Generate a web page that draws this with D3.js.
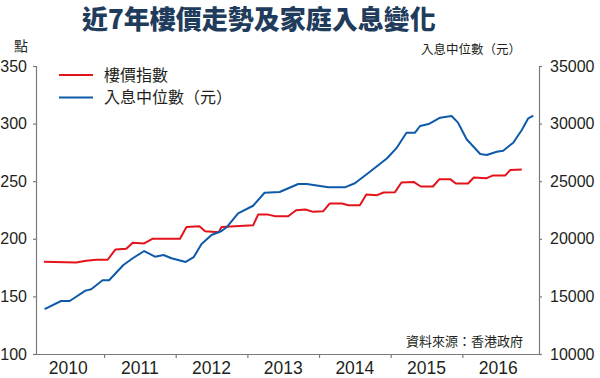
<!DOCTYPE html>
<html><head><meta charset="utf-8">
<script src="https://cdn.jsdelivr.net/npm/d3@7/dist/d3.min.js"></script>
<style>
html,body{margin:0;padding:0;background:#fff;}
svg{display:block;}
</style></head>
<body>
<script>
// ---- data ----
const title = "近7年樓價走勢及家庭入息變化";
const leftUnit = "點";
const rightUnit = "入息中位數（元）";
const source = "資料來源：香港政府";
const seriesNames = ["樓價指數", "入息中位數（元）"];
const yearLabels = [2010, 2011, 2012, 2013, 2014, 2015, 2016];
const yearTicks = [2011, 2012, 2013, 2014, 2015, 2016];
const leftTicks = [100, 150, 200, 250, 300, 350];
const rightTicks = [10000, 15000, 20000, 25000, 30000, 35000];

// property price index (left axis)
const priceTimes = [2010.16,2010.61,2010.75,2010.89,2011.05,2011.16,2011.31,2011.40,2011.56,2011.68,
  2012.06,2012.15,2012.33,2012.41,2012.60,2012.64,2013.08,2013.15,2013.29,2013.39,2013.57,2013.68,
  2013.81,2013.92,2014.06,2014.15,2014.32,2014.41,2014.57,2014.66,2014.81,2014.90,2015.06,2015.15,
  2015.32,2015.42,2015.59,2015.68,2015.83,2015.91,2016.08,2016.16,2016.34,2016.43,2016.60,2016.67,2016.83];
const priceValues = [180.0,179.4,181.0,181.8,181.8,190.8,191.4,196.6,196.0,200.1,
  200.1,210.2,210.8,206.5,205.6,210.2,211.7,221.0,221.0,219.6,219.6,224.8,
  225.4,223.4,224.0,230.7,230.7,229.2,229.2,238.5,237.9,240.2,240.5,248.9,
  249.4,245.4,245.4,251.8,251.8,248.0,248.0,253.2,252.6,255.0,255.0,259.8,260.2];

// median household income (right axis)
const incomeTimes = [2010.17,2010.40,2010.52,2010.74,2010.82,2010.98,2011.07,2011.27,2011.40,2011.56,
  2011.71,2011.83,2011.94,2012.14,2012.25,2012.36,2012.50,2012.64,2012.71,2012.87,2013.08,2013.24,
  2013.45,2013.71,2013.83,2014.13,2014.36,2014.50,2014.67,2014.95,2015.09,2015.22,2015.34,2015.41,
  2015.53,2015.69,2015.85,2015.94,2016.06,2016.25,2016.34,2016.48,2016.57,2016.71,2016.83,2016.92,2016.99];
const incomeValues = [13900,14600,14600,15500,15620,16400,16400,17730,18310,18940,
  18450,18590,18310,17990,18400,19550,20330,20680,21000,22210,22870,24000,
  24060,24760,24760,24470,24470,24820,25620,26990,27940,29210,29210,29790,
  29960,30510,30660,30080,28640,27360,27270,27560,27650,28340,29440,30460,30690];

// ---- drawing ----
const W = 600, H = 378;
const svg = d3.select("body").append("svg").attr("width", W).attr("height", H);
const RED = "#e3131b", BLUE = "#0f5aa8", AXIS = "#7a7a7a", TXT = "#231f20";
const numFont = "'Liberation Sans', Arial, sans-serif";
const cjkFont = "'Noto Sans CJK TC', 'Noto Sans CJK SC', sans-serif";

const x = d3.scaleLinear().domain([2010.05, 2017.07]).range([36, 539]);
const yL = d3.scaleLinear().domain([100, 350]).range([354, 66]);
const yR = d3.scaleLinear().domain([10000, 35000]).range([354, 66]);

// title
svg.append("text").attr("x", 82).attr("y", 29)
  .attr("font-family", cjkFont).attr("font-weight", 900).attr("font-size", 26)
  .attr("fill", "#1f3c5c").text(title);

svg.append("text").attr("x", 21).attr("y", 51).attr("text-anchor", "middle")
  .attr("font-family", cjkFont).attr("font-size", 14).attr("fill", TXT).text(leftUnit);
svg.append("text").attr("x", 521).attr("y", 54).attr("text-anchor", "end")
  .attr("font-family", cjkFont).attr("font-size", 12.5).attr("fill", TXT).text(rightUnit);

// axes
const gL = svg.append("g").attr("transform", "translate(36,0)")
  .call(d3.axisLeft(yL).tickValues(leftTicks).tickSize(3).tickSizeOuter(3).tickPadding(6)
    .tickFormat(d3.format("d")));
const gR = svg.append("g").attr("transform", "translate(539,0)")
  .call(d3.axisRight(yR).tickValues(rightTicks).tickSize(3).tickSizeOuter(3).tickPadding(8)
    .tickFormat(d3.format("d")));
const gB = svg.append("g").attr("transform", "translate(0,354)")
  .call(d3.axisBottom(x).tickValues(yearTicks).tickSize(4).tickSizeOuter(0).tickFormat(""));
[gL, gR, gB].forEach(g => {
  g.selectAll("path,line").attr("stroke", AXIS).attr("stroke-width", 1.2);
  g.selectAll("text").attr("font-family", numFont).attr("font-size", 16).attr("fill", TXT);
});

// year labels centered within each year
svg.append("g").selectAll("text").data(yearLabels).join("text")
  .attr("x", d => x(d + 0.5)).attr("y", 374).attr("text-anchor", "middle")
  .attr("font-family", "'Liberation Sans Narrow', 'Arial Narrow', " + numFont)
  .attr("font-size", 17.5).attr("fill", TXT).text(d => d);

// lines
const priceData = priceTimes.map((t, i) => [t, priceValues[i]]);
const incomeData = incomeTimes.map((t, i) => [t, incomeValues[i]]);
svg.append("path").datum(priceData)
  .attr("d", d3.line().x(d => x(d[0])).y(d => yL(d[1])))
  .attr("fill", "none").attr("stroke", RED).attr("stroke-width", 2).attr("stroke-linejoin", "round");
svg.append("path").datum(incomeData)
  .attr("d", d3.line().x(d => x(d[0])).y(d => yR(d[1])))
  .attr("fill", "none").attr("stroke", BLUE).attr("stroke-width", 2).attr("stroke-linejoin", "round");

// legend
const legend = svg.append("g");
[RED, BLUE].forEach((c, i) => {
  const yy = 75 + i * 22.5;
  legend.append("line").attr("x1", 59).attr("x2", 93).attr("y1", yy).attr("y2", yy)
    .attr("stroke", c).attr("stroke-width", 2);
  legend.append("text").attr("x", 104).attr("y", yy + 5.5)
    .attr("font-family", cjkFont).attr("font-size", 16).attr("fill", TXT).text(seriesNames[i]);
});

// source
svg.append("text").attr("x", 523).attr("y", 346).attr("text-anchor", "end")
  .attr("font-family", cjkFont).attr("font-size", 13).attr("fill", TXT).text(source);
</script>
</body></html>
